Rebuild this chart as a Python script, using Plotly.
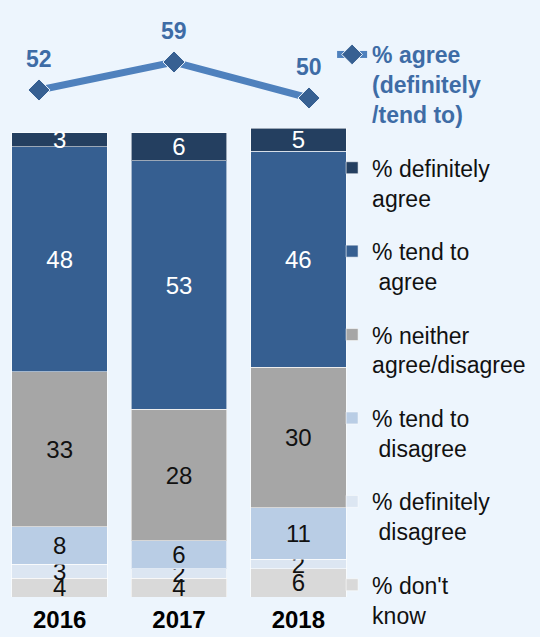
import plotly.graph_objects as go

years = ["2016", "2017", "2018"]

# stacked from the bottom up
dont_know = [4, 4, 6]
def_disagree = [3, 2, 2]
tend_disagree = [8, 6, 11]
neither = [33, 28, 30]
tend_agree = [48, 53, 46]
def_agree = [3, 6, 5]

agree_total = [52, 59, 50]

series = [
    ("% don't<br>know", dont_know, "#D9D9D9", "#111111", 7),
    ("% definitely<br> disagree", def_disagree, "#DCE6F2", "#111111", 6),
    ("% tend to<br> disagree", tend_disagree, "#B9CDE5", "#111111", 5),
    ("% neither<br>agree/disagree", neither, "#A6A6A6", "#111111", 4),
    ("% tend to<br> agree", tend_agree, "#365F91", "#FFFFFF", 3),
    ("% definitely<br>agree", def_agree, "#243F60", "#FFFFFF", 2),
]

FONT = "Arial, Liberation Sans, sans-serif"
BG = "#EDF5FD"

fig = go.Figure()

for i, (name, vals, color, tcolor, rank) in enumerate(series):
    fig.add_trace(go.Bar(
        x=years, y=vals, name=name,
        marker=dict(color=color, line=dict(color="rgba(255,255,255,0.55)", width=1)),
        text=vals, textposition="inside", insidetextanchor="middle",
        constraintext="none", textangle=0,
        textfont=dict(size=24, color=tcolor, family=FONT),
        legendgroup=f"g{i}", legendrank=rank,
        hoverinfo="skip",
    ))

# total agree line on its own axes above the bars
fig.add_trace(go.Scatter(
    x=[0, 1, 2], y=agree_total, xaxis="x2", yaxis="y2",
    mode="lines+markers",
    name="<b><span style='color:#3E6CA6'>% agree<br>(definitely<br>/tend to)</span></b>",
    line=dict(color="#4F81BD", width=7),
    marker=dict(symbol="diamond", size=17, color="#376092",
                line=dict(color="#EDF5FD", width=1)),
    legendgroup="line", legendrank=1,
    cliponaxis=False, hoverinfo="skip",
))

for i, v in enumerate(agree_total):
    fig.add_annotation(
        x=i, y=v, xref="x2", yref="y2", text=f"<b>{v}</b>",
        showarrow=False, yshift=31,
        font=dict(size=23, color="#3E6CA6", family=FONT),
    )

H = 637
plot_h = H - 40
bar_top_px = 128
split = (plot_h - bar_top_px) / plot_h

fig.update_layout(
    width=540, height=H,
    margin=dict(l=0, r=0, t=0, b=40),
    paper_bgcolor=BG, plot_bgcolor=BG,
    barmode="stack", bargap=0.2,
    font=dict(family=FONT, size=23, color="#111111"),
    showlegend=True,
    legend=dict(
        x=0.615, y=0.944, xanchor="left", yanchor="top",
        traceorder="grouped", tracegroupgap=20.6, valign="top",
        maxheight=800,
        bgcolor="rgba(0,0,0,0)", font=dict(size=23, color="#111111"),
    ),
    xaxis=dict(domain=[0, 358 / 540], showgrid=False, zeroline=False,
               showline=False, ticks="", ticklabelstandoff=6,
               tickfont=dict(size=24, color="#000000", family=FONT),
               tickprefix="<b>", ticksuffix="</b>"),
    yaxis=dict(domain=[0, split], range=[0, 100], visible=False),
    xaxis2=dict(domain=[0, 358 / 540], range=[-0.289, 2.363],
                anchor="y2", visible=False),
    yaxis2=dict(domain=[split, 1], range=[42.5, 74.5], anchor="x2",
                visible=False),
)

fig.write_html("out.html", config={"displayModeBar": False},
               post_script="document.body.style.margin='0';")
